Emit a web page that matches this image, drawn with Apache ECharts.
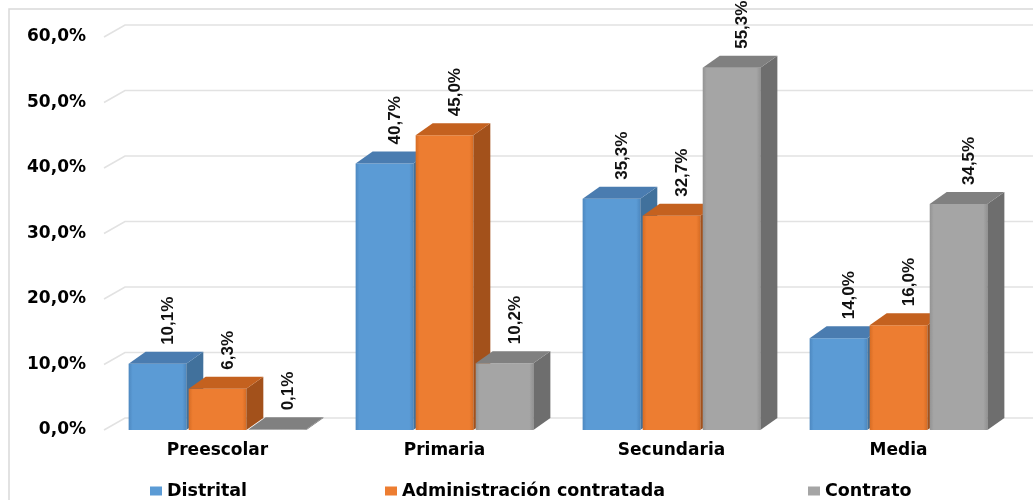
<!DOCTYPE html>
<html>
<head>
<meta charset="utf-8">
<script src="https://cdn.jsdelivr.net/npm/echarts@6/dist/echarts.min.js"></script>
<style>
html,body{margin:0;padding:0;background:#fff;}
#chart{width:1033px;height:500px;}
</style>
</head>
<body>
<div id="chart"></div>
<script>
const categories = ['Preescolar', 'Primaria', 'Secundaria', 'Media'];
const distrital = [10.1, 40.7, 35.3, 14.0];
const administracion = [6.3, 45.0, 32.7, 16.0];
const contrato = [0.1, 10.2, 55.3, 34.5];
const seriesNames = ['Distrital', 'Administración contratada', 'Contrato'];
const yTicks = [0, 10, 20, 30, 40, 50, 60];

const seriesValues = [distrital, administracion, contrato];
const palettes = [
  { front: '#5B9BD5', edge: '#4d88c0', side: '#41719C', top: '#4a7cb0' },
  { front: '#ED7D31', edge: '#d66c24', side: '#A3511B', top: '#c4611f' },
  { front: '#A5A5A5', edge: '#939393', side: '#6E6E6E', top: '#808080' }
];

const BDX = 17, BDY = -12;   // bar depth
const WDX = 21, WDY = -12;   // wall depth

function fmt(v) { return v.toFixed(1).replace('.', ',') + '%'; }

function barRender(si) {
  const pal = palettes[si];
  return function (params, api) {
    const ci = api.value(0);
    const v = api.value(1);
    const base = api.coord([ci, 0]);
    const topP = api.coord([ci, v]);
    const band = api.size([1, 0])[0];
    const w = band * 0.254;
    const step = band * 0.2645;
    const cx = base[0] + (si - 1) * step;
    const l = cx - w / 2, r = cx + w / 2;
    const yt = topP[1], yb = base[1];
    return {
      type: 'group',
      children: [
        {
          type: 'rect',
          shape: { x: l, y: yt, width: w, height: Math.max(yb - yt, 0.01) },
          style: {
            fill: {
              type: 'linear', x: 0, y: 0, x2: 1, y2: 0,
              colorStops: [
                { offset: 0, color: pal.edge },
                { offset: 0.07, color: pal.front },
                { offset: 0.93, color: pal.front },
                { offset: 1, color: pal.edge }
              ]
            }
          }
        },
        {
          type: 'polygon',
          shape: { points: [[r, yt], [r + BDX, yt + BDY], [r + BDX, yb + BDY], [r, yb]] },
          style: { fill: pal.side }
        },
        {
          type: 'polygon',
          shape: { points: [[l, yt], [r, yt], [r + BDX, yt + BDY], [l + BDX, yt + BDY]] },
          style: { fill: pal.top }
        },
        {
          type: 'text',
          x: cx + 11,
          y: yt + BDY - 7,
          rotation: Math.PI / 2,
          style: {
            text: fmt(v),
            align: 'left',
            verticalAlign: 'middle',
            fill: '#111',
            font: 'bold 17px "Liberation Sans", Arial, sans-serif'
          }
        }
      ]
    };
  };
}

const series = [
  {
    type: 'custom',
    name: '_grid',
    z: 1,
    silent: true,
    clip: false,
    data: yTicks.map(function (t) { return [0, t]; }),
    renderItem: function (params, api) {
      const y = api.coord([0, api.value(1)])[1];
      const cs = params.coordSys;
      const x0 = cs.x;
      return {
        type: 'polyline',
        shape: { points: [[x0, y], [x0 + WDX, y + WDY], [1040, y + WDY]] },
        style: { stroke: '#e2e2e2', lineWidth: 1.6, fill: null }
      };
    }
  }
];

seriesValues.forEach(function (vals, si) {
  series.push({
    type: 'custom',
    name: seriesNames[si],
    z: 2 + si,
    clip: false,
    itemStyle: { color: palettes[si].front },
    data: vals.map(function (v, ci) { return [ci, v]; }),
    renderItem: barRender(si)
  });
});

const legendLefts = [145, 380, 803];
const legend = seriesNames.map(function (n, i) {
  return {
    data: [n],
    left: legendLefts[i],
    top: 477,
    icon: 'rect',
    itemWidth: 12,
    itemHeight: 9,
    selectedMode: false,
    textStyle: { fontFamily: 'DejaVu Sans', fontWeight: 'bold', fontSize: 17.5, color: '#000' }
  };
});

const chart = echarts.init(document.getElementById('chart'), null, { renderer: 'canvas' });
chart.setOption({
  animation: false,
  backgroundColor: '#fff',
  graphic: [{
    type: 'rect',
    shape: { x: 9, y: 9, width: 1040, height: 520 },
    style: { fill: null, stroke: '#d9d9d9', lineWidth: 1.5 },
    silent: true
  }],
  grid: { left: 104, right: 21, top: 37, bottom: 70, containLabel: false },
  legend: legend,
  xAxis: {
    type: 'category',
    data: categories,
    axisLine: { show: false },
    axisTick: { show: false },
    axisLabel: {
      margin: 12,
      fontFamily: 'DejaVu Sans', fontWeight: 'bold', fontSize: 17, color: '#000'
    }
  },
  yAxis: {
    type: 'value',
    min: 0, max: 60, interval: 10,
    axisLine: { show: false },
    axisTick: { show: false },
    splitLine: { show: false },
    axisLabel: {
      margin: 18,
      formatter: function (v) { return fmt(v); },
      fontFamily: 'DejaVu Sans', fontWeight: 'bold', fontSize: 17, color: '#000'
    }
  },
  series: series
});
</script>
</body>
</html>
